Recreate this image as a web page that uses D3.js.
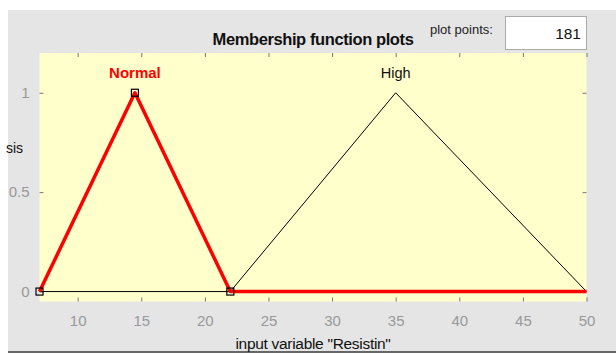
<!DOCTYPE html>
<html>
<head>
<meta charset="utf-8">
<script src="https://cdn.jsdelivr.net/npm/d3@7"></script>
<style>
  html, body { margin: 0; padding: 0; background: #fff; }
  svg { display: block; }
  text { font-family: "Liberation Sans", Arial, sans-serif; }
</style>
</head>
<body>
<script>
// Membership functions of input variable "Resistin"
const xTicks = [10, 15, 20, 25, 30, 35, 40, 45, 50];
const yTicks = [0, 0.5, 1];
const xRange = [7, 50];
const yRange = [-0.05, 1.2];
const mfNames = ["Normal", "High"];
const mfParams = [[7, 14.5, 22], [22, 35, 50]];   // trimf [a b c]
const selected = 0;                                // "Normal" is highlighted
const plotPoints = 181;

const W = 616, H = 354;
const box = { left: 39.5, right: 586.5, top: 53, bottom: 301.5 };

const svg = d3.select("body").append("svg").attr("width", W).attr("height", H);

// grey figure panel
svg.append("rect").attr("x", 8).attr("y", 10).attr("width", W - 8).attr("height", 341)
  .attr("fill", "#e5e5e5");
svg.append("line").attr("x1", 8).attr("x2", W).attr("y1", 352).attr("y2", 352)
  .attr("stroke", "#333").attr("stroke-width", 1.5);

const x = d3.scaleLinear().domain(xRange).range([box.left, box.right]);
const y = d3.scaleLinear().domain(yRange).range([box.bottom, box.top]);

// axes background
svg.append("rect").attr("x", box.left).attr("y", box.top)
  .attr("width", box.right - box.left).attr("height", box.bottom - box.top)
  .attr("fill", "#ffffcc");

// inward ticks on all four sides
const tickLen = 4;
function styleAxis(g) {
  g.select(".domain").remove();
  g.selectAll(".tick line").attr("stroke", "#777");
  g.selectAll(".tick text").attr("fill", "#999").attr("font-size", 15);
}
svg.append("g").attr("transform", `translate(0,${box.bottom})`)
  .call(d3.axisBottom(x).tickValues(xTicks).tickSizeInner(-tickLen).tickSizeOuter(0).tickPadding(14).tickFormat(d3.format("d")))
  .call(styleAxis);
svg.append("g").attr("transform", `translate(0,${box.top})`)
  .call(d3.axisTop(x).tickValues(xTicks).tickSizeInner(-tickLen).tickSizeOuter(0).tickFormat(""))
  .call(styleAxis);
svg.append("g").attr("transform", `translate(${box.left},0)`)
  .call(d3.axisLeft(y).tickValues(yTicks).tickSizeInner(-tickLen).tickSizeOuter(0).tickPadding(10).tickFormat(d => d === 0.5 ? "0.5" : d3.format("d")(d)))
  .call(styleAxis);
svg.append("g").attr("transform", `translate(${box.right},0)`)
  .call(d3.axisRight(y).tickValues(yTicks).tickSizeInner(-tickLen).tickSizeOuter(0).tickFormat(""))
  .call(styleAxis);

// membership curves: triangle plus zero segments outside its support
function curvePoints(p) {
  const pts = [];
  if (p[0] > xRange[0]) pts.push([xRange[0], 0]);
  pts.push([p[0], 0], [p[1], 1], [p[2], 0]);
  if (p[2] < xRange[1]) pts.push([xRange[1], 0]);
  return pts;
}
const line = d3.line().x(d => x(d[0])).y(d => y(d[1]));
const order = mfParams.map((_, i) => i).filter(i => i !== selected).concat([selected]);
order.forEach(i => {
  const sel = i === selected;
  svg.append("path").attr("d", line(curvePoints(mfParams[i])))
    .attr("fill", "none")
    .attr("stroke", sel ? "#ff0000" : "#000")
    .attr("stroke-width", sel ? 3.5 : 1)
    .attr("stroke-linejoin", "round");
});

// vertex handles on the selected function
svg.selectAll("rect.handle").data(mfParams[selected].map((v, k) => [v, k === 1 ? 1 : 0]))
  .enter().append("rect").attr("class", "handle")
  .attr("x", d => x(d[0]) - 3.5).attr("y", d => y(d[1]) - 3.5)
  .attr("width", 7).attr("height", 7)
  .attr("fill", "none").attr("stroke", "#000").attr("stroke-width", 1.2);

// function names above each peak
mfNames.forEach((name, i) => {
  const sel = i === selected;
  svg.append("text").attr("x", x(mfParams[i][1])).attr("y", 78)
    .attr("text-anchor", "middle").attr("font-size", sel ? 15 : 14.5)
    .attr("font-weight", sel ? "bold" : "normal")
    .attr("fill", sel ? "#ff0000" : "#111")
    .text(name);
});

// titles
svg.append("text").attr("x", 313).attr("y", 45).attr("text-anchor", "middle")
  .attr("font-size", 16.5).attr("font-weight", "bold").attr("fill", "#111")
  .attr("letter-spacing", -0.4)
  .text("Membership function plots");
svg.append("text").attr("x", 313).attr("y", 349).attr("text-anchor", "middle")
  .attr("font-size", 15.5).attr("fill", "#111")
  .attr("letter-spacing", -0.3)
  .text('input variable "Resistin"');
svg.append("text").attr("x", 23).attr("y", 153).attr("text-anchor", "end")
  .attr("font-size", 14).attr("fill", "#111")
  .text("sis");

// plot points field
svg.append("text").attr("x", 430).attr("y", 34)
  .attr("font-size", 13).attr("fill", "#222").text("plot points:");
svg.append("rect").attr("x", 505.5).attr("y", 16.5).attr("width", 81).attr("height", 33)
  .attr("fill", "#fff").attr("stroke", "#aaa");
svg.append("text").attr("x", 581).attr("y", 39).attr("text-anchor", "end")
  .attr("font-size", 15.5).attr("fill", "#111").text(plotPoints);
</script>
</body>
</html>
